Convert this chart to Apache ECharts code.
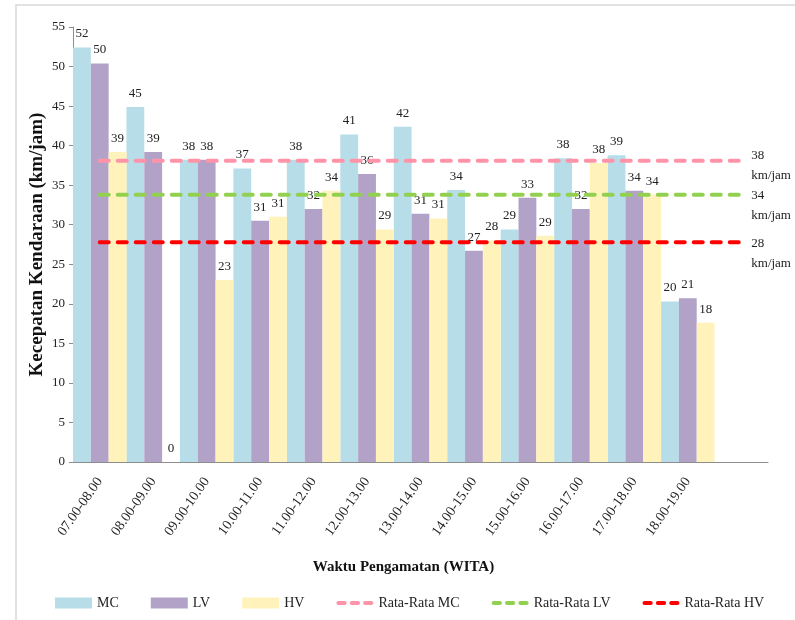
<!DOCTYPE html>
<html>
<head>
    <meta charset="utf-8">
    <script src="https://cdn.jsdelivr.net/npm/echarts@6/dist/echarts.min.js"></script>
</head>
<body style="margin:0;background:#fff;">
    <div id="main" style="width: 795px;height:620px;"></div>
    <script type="text/javascript">
        // data
        var categories = ['07.00-08.00', '08.00-09.00', '09.00-10.00', '10.00-11.00', '11.00-12.00', '12.00-13.00',
            '13.00-14.00', '14.00-15.00', '15.00-16.00', '16.00-17.00', '17.00-18.00', '18.00-19.00', ''];
        var mcData = [52.4, 44.9, 38.2, 37.1, 38.2, 41.4, 42.4, 34.4, 29.4, 38.4, 38.8, 20.3, null];
        var lvData = [50.4, 39.2, 38.2, 30.5, 32.0, 36.4, 31.4, 26.7, 33.4, 32.0, 34.3, 20.7, null];
        var hvData = [39.2, 0, 23.0, 31.0, 34.3, 29.4, 30.8, 28.0, 28.6, 37.8, 33.8, 17.6, null];
        var avgMC = [38.1, 38.1, 38.1, 38.1, 38.1, 38.1, 38.1, 38.1, 38.1, 38.1, 38.1, 38.1, 38.1];
        var avgLV = [33.8, 33.8, 33.8, 33.8, 33.8, 33.8, 33.8, 33.8, 33.8, 33.8, 33.8, 33.8, 33.8];
        var avgHV = [27.8, 27.8, 27.8, 27.8, 27.8, 27.8, 27.8, 27.8, 27.8, 27.8, 27.8, 27.8, 27.8];

        var serif = "'Liberation Serif', 'Times New Roman', serif";
        // three short rounded dashes for the legend of the average lines
        var dashIcon = 'path://M2,0H8A2,2 0 0 1 8,4H2A2,2 0 0 1 2,0Z' +
            'M15,0H21A2,2 0 0 1 21,4H15A2,2 0 0 1 15,0Z' +
            'M28,0H34A2,2 0 0 1 34,4H28A2,2 0 0 1 28,0Z';

        function barSeries(name, data, color) {
            return {
                name: name,
                type: 'bar',
                data: data,
                barGap: '0%',
                barCategoryGap: '0%',
                itemStyle: { color: color },
                label: {
                    show: true,
                    position: 'top',
                    distance: 7,
                    fontFamily: serif,
                    fontSize: 13,
                    color: '#222',
                    formatter: function (p) {
                        return p.value == null ? '' : Math.round(p.value);
                    }
                }
            };
        }

        function avgSeries(name, data, color, dy) {
            return {
                name: name,
                type: 'line',
                data: data,
                symbol: 'none',
                z: 5,
                lineStyle: { color: color, width: 4, type: [9, 9], cap: 'round' },
                itemStyle: { color: color },
                endLabel: {
                    show: true,
                    distance: 10,
                    offset: [0, dy],
                    fontFamily: serif,
                    fontSize: 13,
                    color: '#222',
                    lineHeight: 20,
                    formatter: function (p) {
                        return Math.round(p.value) + '\nkm/jam';
                    }
                }
            };
        }

        var myChart = echarts.init(document.getElementById('main'));
        myChart.setOption({
            animation: false,
            backgroundColor: '#fff',
            graphic: [{
                type: 'rect',
                shape: { x: 16, y: 5, width: 800, height: 700 },
                style: { fill: 'none', stroke: '#d9d9d9', lineWidth: 1.5 },
                silent: true
            }],
            grid: { left: 73, right: 27, top: 27, bottom: 158 },
            legend: {
                left: 50,
                top: 591,
                itemWidth: 37,
                itemHeight: 11,
                itemGap: 32,
                textStyle: { fontFamily: serif, fontSize: 14, color: '#222' },
                data: [
                    { name: 'MC', icon: 'rect' },
                    { name: 'LV', icon: 'rect' },
                    { name: 'HV', icon: 'rect' },
                    { name: 'Rata-Rata MC', icon: dashIcon },
                    { name: 'Rata-Rata LV', icon: dashIcon },
                    { name: 'Rata-Rata HV', icon: dashIcon }
                ]
            },
            xAxis: {
                type: 'category',
                data: categories,
                name: 'Waktu Pengamatan (WITA)',
                nameLocation: 'middle',
                nameGap: 98,
                nameMoveOverlap: false,
                nameTextStyle: {
                    fontFamily: serif, fontSize: 15, fontWeight: 'bold', color: '#111',
                    padding: [0, 34, 0, 0]
                },
                axisLine: { lineStyle: { color: '#8c8c8c', width: 1 } },
                axisTick: { show: false },
                axisLabel: {
                    interval: 0,
                    rotate: 55,
                    margin: 17,
                    fontFamily: serif,
                    fontSize: 14,
                    color: '#222'
                }
            },
            yAxis: {
                type: 'value',
                min: 0,
                max: 55,
                interval: 5,
                name: 'Kecepatan Kendaraan (km/jam)',
                nameLocation: 'middle',
                nameGap: 26,
                nameMoveOverlap: false,
                nameTextStyle: { fontFamily: serif, fontSize: 19, fontWeight: 'bold', color: '#111' },
                axisLine: { show: true, lineStyle: { color: '#8c8c8c', width: 1 } },
                axisTick: { show: true, length: 4, lineStyle: { color: '#8c8c8c' } },
                splitLine: { show: false },
                axisLabel: {
                    fontFamily: serif,
                    fontSize: 13,
                    color: '#222',
                    margin: 8
                }
            },
            series: [
                barSeries('MC', mcData, '#b7dde8'),
                barSeries('LV', lvData, '#b3a2c7'),
                barSeries('HV', hvData, '#fff3bb'),
                avgSeries('Rata-Rata MC', avgMC, '#ff93a8', 5),
                avgSeries('Rata-Rata LV', avgLV, '#92d050', 11),
                avgSeries('Rata-Rata HV', avgHV, '#ff0000', 11)
            ]
        });
    </script>
</body>
</html>
